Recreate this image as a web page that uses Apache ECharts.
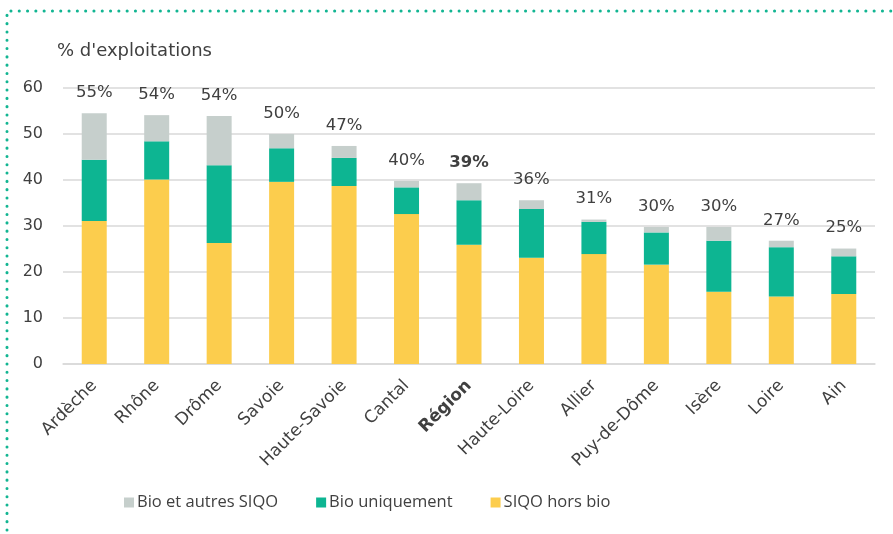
<!DOCTYPE html>
<html>
<head>
<meta charset="utf-8">
<script src="https://cdn.jsdelivr.net/npm/echarts@6/dist/echarts.min.js"></script>
<style>
html,body{margin:0;padding:0;background:#fff;}
#chart{width:893px;height:534px;}
</style>
</head>
<body>
<div id="chart"></div>
<script>
const categories = ['Ardèche','Rhône','Drôme','Savoie','Haute-Savoie','Cantal','Région','Haute-Loire','Allier','Puy-de-Dôme','Isère','Loire','Ain'];
const siqoHorsBio = [31.1, 40.1, 26.3, 39.6, 38.7, 32.6, 25.9, 23.1, 23.9, 21.6, 15.7, 14.7, 15.2];
const bioUniquement = [13.3, 8.3, 16.9, 7.3, 6.1, 5.8, 9.7, 10.6, 7.0, 7.0, 11.1, 10.7, 8.2];
const bioAutres = [10.1, 5.7, 10.7, 3.1, 2.6, 1.4, 3.7, 1.9, 0.5, 1.2, 3.0, 1.4, 1.7];
const totalLabels = ['55%','54%','54%','50%','47%','40%','39%','36%','31%','30%','30%','27%','25%'];
const yTicks = [0, 10, 20, 30, 40, 50, 60];

const FONT = '"DejaVu Sans", "Noto Sans", sans-serif';
const LFONT = '"Open Sans", "Noto Sans", sans-serif';
const TXT = '#404040';

const chart = echarts.init(document.getElementById('chart'));
chart.setOption({
  animation: false,
  textStyle: { fontFamily: FONT },
  grid: { left: 63, right: 18, top: 88, bottom: 170 },
  legend: {
    left: 119, top: 489,
    itemWidth: 10, itemHeight: 10, itemGap: 38,
    icon: 'rect',
    textStyle: { fontSize: 16.5, color: TXT, fontFamily: LFONT, padding: [0,0,0,-2] },
    data: ['Bio et autres SIQO', 'Bio uniquement', 'SIQO hors bio']
  },
  xAxis: {
    type: 'category',
    data: categories,
    axisLine: { show: true, lineStyle: { color: '#d9d9d9', width: 1.5 } },
    axisTick: { show: false },
    axisLabel: {
      rotate: 45, fontSize: 17, color: TXT, margin: 19, interval: 0, fontFamily: FONT,
      formatter: function (v) { return v === 'Région' ? '{b|' + v + '}' : v; },
      rich: { b: { fontWeight: 'bold', fontSize: 17, color: TXT, fontFamily: FONT } }
    }
  },
  yAxis: {
    type: 'value',
    min: yTicks[0], max: yTicks[yTicks.length - 1], interval: 10,
    name: "% d'exploitations",
    nameLocation: 'end',
    nameGap: 28,
    nameTextStyle: { fontSize: 18, color: TXT, align: 'left', padding: [0,0,0,-6], fontFamily: FONT },
    axisLine: { show: false },
    axisTick: { show: false },
    axisLabel: { fontSize: 16, color: TXT, margin: 20, fontFamily: FONT },
    splitLine: { lineStyle: { color: '#d9d9d9', width: 1.5 } }
  },
  series: [
    {
      name: 'SIQO hors bio', type: 'bar', stack: 't', barWidth: 25,
      itemStyle: { color: '#fccd4d' },
      data: siqoHorsBio
    },
    {
      name: 'Bio uniquement', type: 'bar', stack: 't', barWidth: 25,
      itemStyle: { color: '#0db592' },
      data: bioUniquement
    },
    {
      name: 'Bio et autres SIQO', type: 'bar', stack: 't', barWidth: 25,
      itemStyle: { color: '#c6cfcc' },
      data: bioAutres,
      label: {
        show: true, position: 'top', distance: 12,
        fontSize: 16.5, color: TXT, fontFamily: FONT,
        formatter: function (p) {
          return categories[p.dataIndex] === 'Région' ? '{b|' + totalLabels[p.dataIndex] + '}' : totalLabels[p.dataIndex];
        },
        rich: { b: { fontWeight: 'bold', fontSize: 16.5, color: TXT, fontFamily: FONT } }
      }
    }
  ],
  graphic: [
    {
      type: 'polyline',
      shape: { points: [[7, 530], [7, 11], [893, 11]] },
      style: { stroke: '#12b592', lineWidth: 3, lineDash: [0.1, 8.2], lineCap: 'round', fill: null },
      silent: true
    }
  ]
});
</script>
</body>
</html>
